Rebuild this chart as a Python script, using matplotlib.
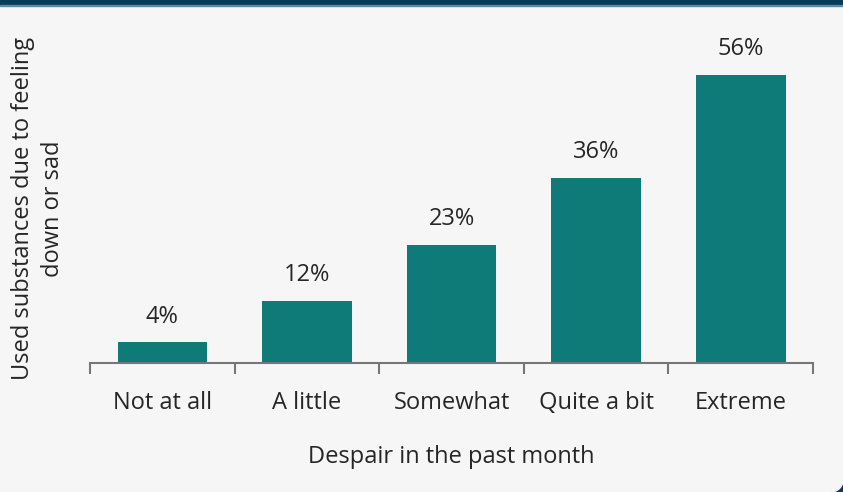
import matplotlib.pyplot as plt
from matplotlib.patches import Rectangle, Circle

categories = ['Not at all', 'A little', 'Somewhat', 'Quite a bit', 'Extreme']
values = [4, 12, 23, 36, 56]

bar_color = '#0e7b79'
text_color = '#262626'
bg_color = '#f6f6f6'
frame_color = '#073b5a'

plt.rcParams['font.family'] = ['Open Sans', 'DejaVu Sans']

fig = plt.figure(figsize=(8.43, 4.92), dpi=100, facecolor=bg_color)
ax = fig.add_axes([0.1068, 0.2622, 0.8576, 0.627])
ax.set_facecolor(bg_color)

x = range(len(categories))
bars = ax.bar(x, values, width=0.62, color=bar_color)

for xi, v in zip(x, values):
    ax.annotate(f'{v}%', (xi, v), xytext=(0, 10), textcoords='offset points',
                ha='center', va='bottom', fontsize=17, color=text_color)

ax.set_xlim(-0.5, len(categories) - 0.5)
ax.set_ylim(0, 60)
ax.set_yticks([])

# category labels in the middle, tick marks on the boundaries
ax.set_xticks(list(x))
ax.set_xticklabels(categories, fontsize=17, color=text_color)
ax.tick_params(axis='x', which='major', length=0, pad=20)
ax.set_xticks([i - 0.5 for i in range(len(categories) + 1)], minor=True)
ax.tick_params(axis='x', which='minor', length=8, width=1.5, color='#767676')

for side in ['top', 'right', 'left']:
    ax.spines[side].set_visible(False)
ax.spines['bottom'].set_color('#767676')
ax.spines['bottom'].set_linewidth(1.5)

ax.set_xlabel('Despair in the past month', fontsize=17, color=text_color, labelpad=22)
ax.set_ylabel('Used substances due to feeling\ndown or sad', fontsize=17,
              color=text_color, labelpad=18, linespacing=1.35)

# dark band along the top edge
fig.patches.append(Rectangle((0, 0.99), 1, 0.01, transform=fig.transFigure,
                             color=frame_color, zorder=0))
fig.patches.append(Rectangle((0, 0.987), 1, 0.003, transform=fig.transFigure,
                             color='#5d8aa0', zorder=0))

# rounded lower-right corner
fig.patches.append(Rectangle((831, 0), 12, 12, transform=None,
                             color=frame_color, zorder=0))
fig.patches.append(Circle((831, 12), 12, transform=None,
                          color=bg_color, zorder=1))

fig.savefig('out.png', dpi=100, facecolor=bg_color)
